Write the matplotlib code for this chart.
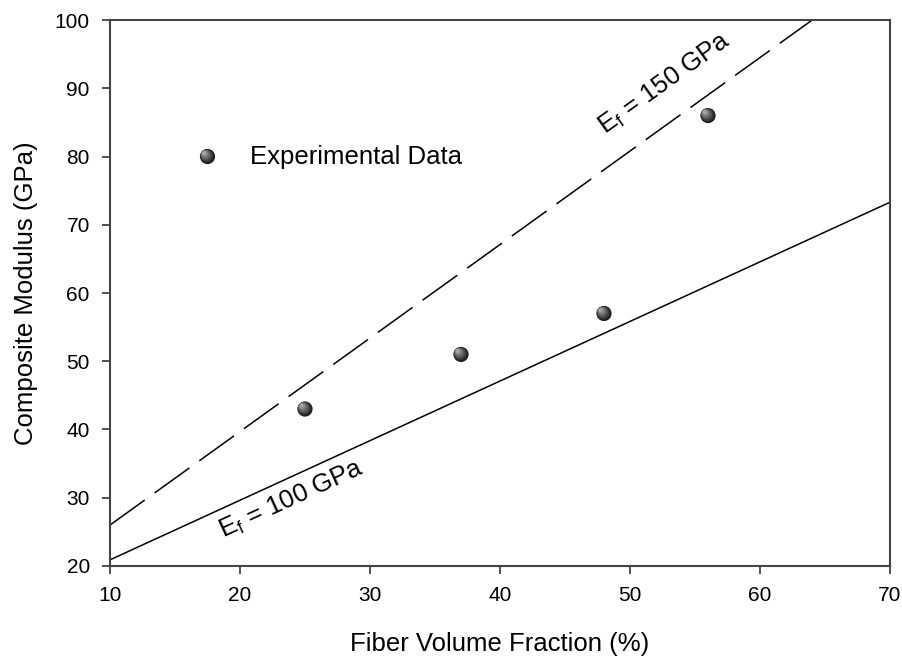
import numpy as np
import matplotlib
matplotlib.use('Agg')
import matplotlib.pyplot as plt
from matplotlib.transforms import offset_copy

plt.rcParams['font.family'] = ['Liberation Sans', 'DejaVu Sans']

# experimental points
vf_exp = [25, 37, 48, 56]
e_exp = [43, 51, 57, 86]

# rule of mixtures lines (end points)
vf_line = [10, 70]
e_100 = [20.9, 73.3]
e_150 = [26.0, 108.2]

legend_pt = (17.5, 80)

fig = plt.figure(figsize=(9.03, 6.56), dpi=100)
ax = fig.add_axes([0.1218, 0.1372, 0.8638, 0.8323])

ax.plot(vf_line, e_100, color='black', lw=1.1)
ax.plot(vf_line, e_150, color='black', lw=1.1, dashes=(28, 8))


def ball(x, y):
    # shaded sphere: dark base with lighter layers toward upper left
    shades = ['#1e1e1e', '#383838', '#535353', '#6e6e6e', '#8a8a8a', '#a6a6a6']
    sizes = [120, 88, 60, 38, 20, 8]
    for i, (c, s) in enumerate(zip(shades, sizes)):
        tr = offset_copy(ax.transData, fig=fig, x=-0.5 * i, y=0.5 * i, units='points')
        ax.scatter(x, y, s=s, color=c, edgecolors='none', zorder=3 + i, transform=tr)


ball(vf_exp, e_exp)
ball([legend_pt[0]], [legend_pt[1]])
ax.text(20.8, 80, 'Experimental Data', fontsize=18.5, va='center', ha='left')

ax.text(52.7, 90.6, r'$\mathregular{E_f}$ = 150 GPa', fontsize=18.5, rotation=35.7,
        ha='center', va='center', rotation_mode='anchor')
ax.text(24.0, 29.8, r'$\mathregular{E_f}$ = 100 GPa', fontsize=18.5, rotation=24.6,
        ha='center', va='center', rotation_mode='anchor')

ax.set_xlim(10, 70)
ax.set_ylim(20, 100)
ax.set_xticks(range(10, 71, 10))
ax.set_yticks(range(20, 101, 10))
ax.tick_params(direction='out', length=5.5, width=1.3, labelsize=15, color='#444444', pad=9)
for sp in ax.spines.values():
    sp.set_color('#444444')
    sp.set_linewidth(1.5)

ax.set_xlabel('Fiber Volume Fraction (%)', fontsize=18.5, labelpad=19)
ax.set_ylabel('Composite Modulus (GPa)', fontsize=18.5, labelpad=12)

plt.savefig('out.png', dpi=100)
